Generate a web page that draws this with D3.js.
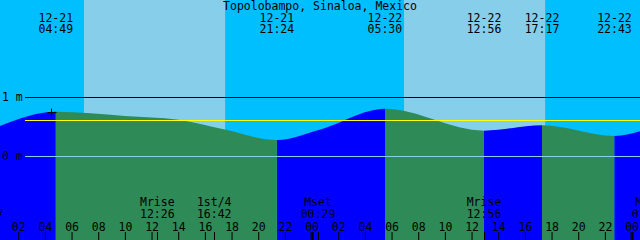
<!DOCTYPE html>
<html>
<head>
<meta charset="utf-8">
<script src="https://cdn.jsdelivr.net/npm/d3@7"></script>
<style>
    body { margin: 0; background: #00bfff; }
    svg { display: block; }
    text { font-family: "DejaVu Sans Mono", monospace; font-size: 11.5px; fill: #000; }
</style>
</head>
<body>
<div id="chart"></div>
<script>
// chart data
const title = "Topolobampo, Sinaloa, Mexico";
const startTime = "12-21 00:38";
const endTime = "12-23 00:38";

// labelled highs and lows
const tideTimes = ["12-21 04:49", "12-21 21:24", "12-22 05:30", "12-22 12:56", "12-22 17:17", "12-22 22:43"];
const tideLevels = [0.75, 0.27, 0.80, 0.43, 0.52, 0.34];
// extra readings of the curve (m)
const readTimes = ["12-21 00:38", "12-21 10:00", "12-21 14:00", "12-21 17:30", "12-22 00:40", "12-23 00:38"];
const readLevels = [0.51, 0.68, 0.615, 0.45, 0.45, 0.42];

const sunrise = ["12-21 06:56", "12-22 06:56"];
const sunset = ["12-21 17:31", "12-22 17:31"];

const moonLabels = ["Mset", "Mrise", "1st/4", "Mset", "Mrise", "Mset"];
const moonTimes = ["12-20 23:37", "12-21 12:26", "12-21 16:42", "12-22 00:29", "12-22 12:56", "12-23 01:19"];

const datumLevels = [0, 1];
const datumLabels = ["0 m", "1 m"];
const meanLevel = 0.61;
const nowTime = "12-21 04:26";
const nowLevel = 0.74;

function drawTides() {
    const width = 640, height = 240;
    const parse = s => d3.timeParse("%Y-%m-%d %H:%M")("2023-" + s);

    const svg = d3.select("#chart")
        .append("svg")
        .attr("width", width)
        .attr("height", height);

    const x = d3.scaleTime()
        .domain([parse(startTime), parse(endTime)])
        .range([0, width]);
    const y = d3.scaleLinear()
        .domain([0, 1])
        .range([156, 97]);

    // night / day background
    svg.append("rect")
        .attr("width", width).attr("height", height)
        .attr("fill", "#00bfff");
    svg.selectAll(".day")
        .data(sunrise)
        .enter().append("rect")
        .attr("x", d => x(parse(d)))
        .attr("width", (d, i) => x(parse(sunset[i])) - x(parse(d)))
        .attr("y", 0).attr("height", height)
        .attr("fill", "#87ceeb");

    // water
    const extremes = tideTimes.map((t, i) => ({t: parse(t), v: tideLevels[i]}));
    let tide = extremes.concat(readTimes.map((t, i) => ({t: parse(t), v: readLevels[i]})));
    tide.sort((a, b) => a.t - b.t);

    const area = d3.area()
        .x(d => x(d.t))
        .y0(height)
        .y1(d => y(d.v))
        .curve(d3.curveMonotoneX);

    // rising = blue, falling = green, split at highs and lows
    const cuts = [parse(startTime)].concat(extremes.map(d => d.t), [parse(endTime)]);
    for (let i = 0; i < cuts.length - 1; i++) {
        const x0 = x(cuts[i]), x1 = x(cuts[i + 1]);
        const a = tide.find(d => +d.t === +cuts[i]), b = tide.find(d => +d.t === +cuts[i + 1]);
        svg.append("clipPath").attr("id", "seg" + i)
            .append("rect")
            .attr("x", x0).attr("width", x1 - x0)
            .attr("y", 0).attr("height", height);
        svg.append("path")
            .datum(tide)
            .attr("clip-path", `url(#seg${i})`)
            .attr("fill", b.v > a.v ? "#0000ff" : "#2e8b57")
            .attr("d", area);
    }

    // datum lines
    svg.selectAll(".datum")
        .data(datumLevels)
        .enter().append("line")
        .attr("x1", 25).attr("x2", width)
        .attr("y1", d => Math.round(y(d)) + 0.5)
        .attr("y2", d => Math.round(y(d)) + 0.5)
        .attr("stroke", d => d === 0 ? "#87ceeb" : "#000");
    svg.append("line")
        .attr("x1", 25).attr("x2", width)
        .attr("y1", Math.round(y(meanLevel)) + 0.5)
        .attr("y2", Math.round(y(meanLevel)) + 0.5)
        .attr("stroke", "#ffff00");
    svg.selectAll(".dlabel")
        .data(datumLevels)
        .enter().append("text")
        .attr("x", 2)
        .attr("y", d => y(d) + 4)
        .text((d, i) => datumLabels[i]);

    // now mark
    const nx = Math.round(x(parse(nowTime))) + 0.5, ny = Math.round(y(nowLevel)) + 0.5;
    svg.append("path")
        .attr("d", `M${nx - 4},${ny}H${nx + 5}M${nx},${ny - 4}V${ny + 4}`)
        .attr("stroke", "#000");

    // title and tide events
    svg.append("text")
        .attr("x", width / 2).attr("y", 10)
        .attr("text-anchor", "middle")
        .text(title);
    const ev = svg.selectAll(".ev")
        .data(tideTimes)
        .enter().append("g")
        .attr("transform", d => `translate(${x(parse(d))},0)`);
    ev.append("text").attr("y", 22).attr("text-anchor", "middle")
        .text(d => d.split(" ")[0]);
    ev.append("text").attr("y", 33).attr("text-anchor", "middle")
        .text(d => d.split(" ")[1]);

    // moon events
    const moon = svg.selectAll(".moon")
        .data(moonTimes)
        .enter().append("g")
        .attr("transform", d => `translate(${x(parse(d))},0)`);
    moon.append("text").attr("y", 206).attr("text-anchor", "middle")
        .text((d, i) => moonLabels[i]);
    moon.append("text").attr("y", 218).attr("text-anchor", "middle")
        .text(d => d.split(" ")[1]);
    moon.append("line")
        .attr("x1", d => Math.round(x(parse(d))) - x(parse(d)) + 0.5)
        .attr("x2", d => Math.round(x(parse(d))) - x(parse(d)) + 0.5)
        .attr("y1", 232).attr("y2", height)
        .attr("stroke", "#000");

    // hour axis
    const axis = svg.append("g")
        .attr("transform", `translate(0,${height})`)
        .call(d3.axisTop(x)
            .ticks(d3.timeHour.every(2))
            .tickSize(8)
            .tickPadding(1)
            .tickFormat(d3.timeFormat("%H")));
    axis.select(".domain").remove();
    axis.attr("font-family", null).attr("font-size", null);
    axis.selectAll("line").attr("stroke", "#000")
        .attr("stroke-width", d => d.getHours() === 0 ? 3 : 1);
    axis.selectAll("text").attr("fill", "#000");
}

drawTides();
</script>
</body>
</html>
